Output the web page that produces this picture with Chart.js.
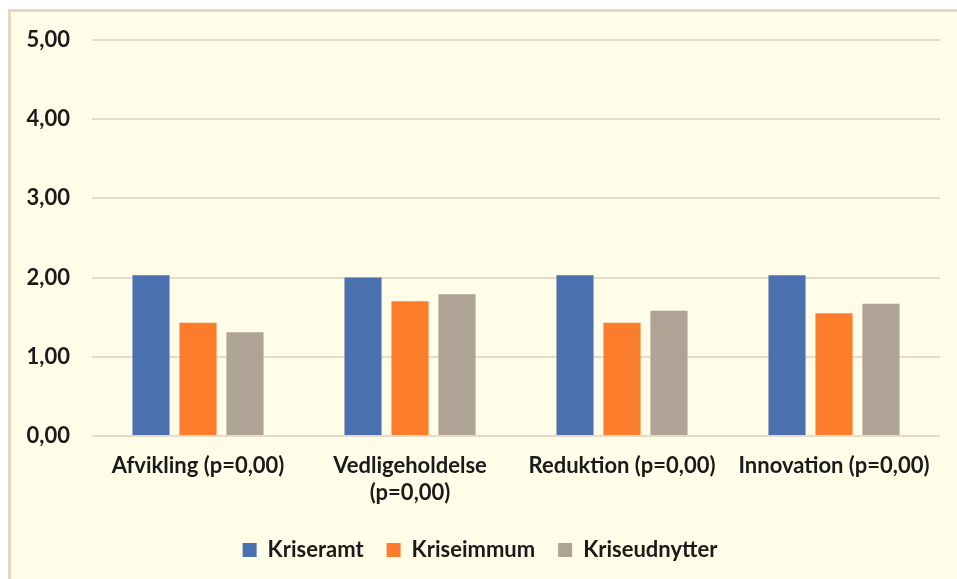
<!DOCTYPE html>
<html>
<head>
<meta charset="utf-8">
<script src="https://cdn.jsdelivr.net/npm/chart.js@4"></script>
<style>
  html, body { margin: 0; padding: 0; background: #ffffff; }
  #wrap { position: relative; width: 957px; height: 579px; overflow: hidden; }
  #panel {
    position: absolute; left: 8px; top: 9px; width: 960px; height: 580px;
    background: #FFFDE8; border-left: 3px solid #E6D7C3; border-top: 3px solid #E6D7C3;
  }
  #chart { position: absolute; left: 0; top: 0; }
</style>
</head>
<body>
<div id="wrap">
  <div id="panel"></div>
  <canvas id="chart" width="957" height="579"></canvas>
</div>
<script>
// Data
const categories = [
  'Afvikling (p=0,00)',
  ['Vedligeholdelse', '(p=0,00)'],
  'Reduktion (p=0,00)',
  'Innovation (p=0,00)'
];
const kriseramt = [2.03, 2.00, 2.03, 2.03];
const kriseimmum = [1.43, 1.70, 1.43, 1.55];
const kriseudnytter = [1.31, 1.79, 1.58, 1.67];
const yTicks = [0, 1, 2, 3, 4, 5];

const FONT = 'Lato, "Open Sans", sans-serif';
const FONT_SIZE = 22;
const gridColor = '#E8DAC7';

const ctx = document.getElementById('chart');

new Chart(ctx, {
  type: 'bar',
  data: {
    labels: categories,
    datasets: [
      { label: 'Kriseramt', data: kriseramt, backgroundColor: '#4A70B0' },
      { label: 'Kriseimmum', data: kriseimmum, backgroundColor: '#FB7D2B' },
      { label: 'Kriseudnytter', data: kriseudnytter, backgroundColor: '#AEA394' }
    ]
  },
  options: {
    responsive: false,
    animation: false,
    devicePixelRatio: 1,
    categoryPercentage: 0.665,
    barPercentage: 0.79,
    layout: {
      padding: { left: 20, right: 17, top: 40, bottom: 8 }
    },
    plugins: {
      tooltip: { enabled: false },
      title: { display: false },
      legend: {
        position: 'bottom',
        labels: {
          color: '#1a1a1a',
          font: { family: FONT, size: FONT_SIZE, weight: 'bold' },
          boxWidth: 14,
          boxHeight: 14,
          padding: 23
        }
      }
    },
    scales: {
      x: {
        grid: { display: false },
        border: { display: false },
        afterFit: (axis) => {
          axis.height = 80;
        },
        ticks: {
          color: '#1a1a1a',
          font: { family: FONT, size: FONT_SIZE, weight: 'bold', lineHeight: 1.2 },
          maxRotation: 0,
          autoSkip: false,
          padding: 9
        }
      },
      y: {
        min: 0,
        max: 5,
        afterBuildTicks: (axis) => {
          axis.ticks = yTicks.map(v => ({ value: v }));
        },
        afterFit: (axis) => {
          axis.width = 72;
        },
        grid: { color: gridColor, lineWidth: 2, drawTicks: false },
        border: { display: false },
        ticks: {
          color: '#1a1a1a',
          font: { family: FONT, size: FONT_SIZE, weight: 'bold' },
          padding: 22,
          callback: (v) => Number(v).toFixed(2).replace('.', ',')
        }
      }
    }
  }
});
</script>
</body>
</html>
